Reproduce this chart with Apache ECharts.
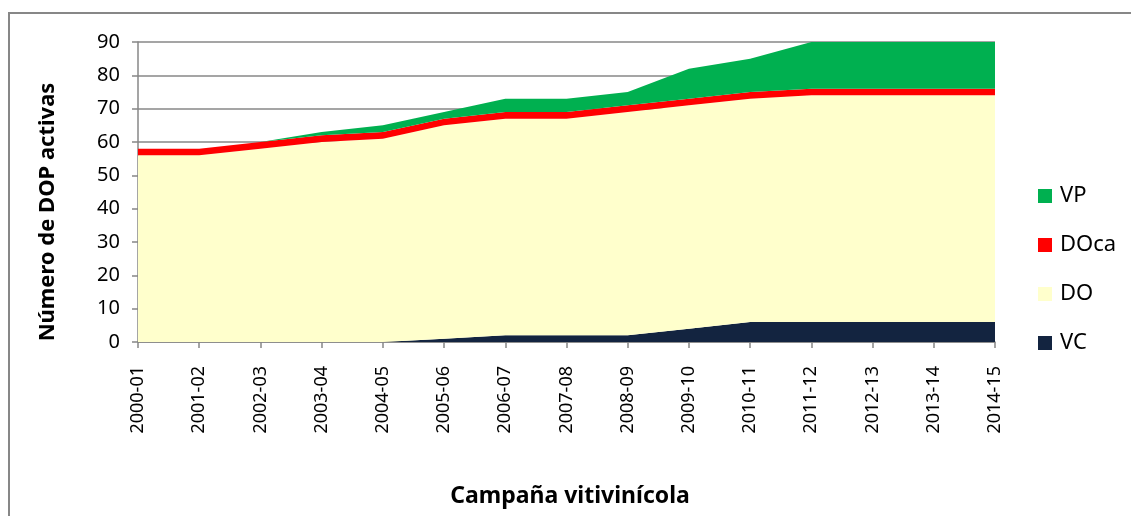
<!DOCTYPE html>
<html>
<head>
<meta charset="utf-8">
<script src="https://cdn.jsdelivr.net/npm/echarts@6/dist/echarts.min.js"></script>
<style>
  html, body { margin: 0; padding: 0; background: #fff; }
  #chart { width: 1131px; height: 516px; }
</style>
</head>
<body>
<div id="chart"></div>
<script>
var campanas = ['2000-01','2001-02','2002-03','2003-04','2004-05','2005-06','2006-07','2007-08',
                '2008-09','2009-10','2010-11','2011-12','2012-13','2013-14','2014-15'];
var vc   = [0, 0, 0, 0, 0, 1, 2, 2, 2, 4, 6, 6, 6, 6, 6];
var dO   = [56, 56, 58, 60, 61, 64, 65, 65, 67, 67, 67, 68, 68, 68, 68];
var doca = [2, 2, 2, 2, 2, 2, 2, 2, 2, 2, 2, 2, 2, 2, 2];
var vp   = [0, 0, 0, 1, 2, 2, 4, 4, 4, 9, 10, 14, 14, 14, 14];
var yTicks = [0, 10, 20, 30, 40, 50, 60, 70, 80, 90];

var font = 'Noto Sans';
var gris = '#878787';

var myChart = echarts.init(document.getElementById('chart'));

function area(name, data, color) {
  return {
    name: name,
    type: 'line',
    stack: 'total',
    data: data,
    symbol: 'none',
    lineStyle: { width: 0 },
    areaStyle: { color: color, opacity: 1 },
    itemStyle: { color: color },
    z: 2
  };
}

var option = {
  animation: false,
  backgroundColor: '#fff',
  graphic: [{
    type: 'rect',
    shape: { x: 9, y: 13, width: 1140, height: 520 },
    style: { fill: 'none', stroke: gris, lineWidth: 2 },
    silent: true
  }, {
    // titulo del eje Y
    type: 'text',
    x: 48, y: 212,
    rotation: Math.PI / 2,
    style: {
      text: 'Número de DOP activas',
      fontFamily: font, fontSize: 22, fontWeight: 'bold', fill: '#000',
      align: 'center', verticalAlign: 'middle'
    },
    silent: true
  }, {
    // titulo del eje X
    type: 'text',
    x: 570, y: 496,
    style: {
      text: 'Campaña vitivinícola',
      fontFamily: font, fontSize: 23, fontWeight: 'bold', fill: '#000',
      align: 'center', verticalAlign: 'middle'
    },
    silent: true
  }],
  grid: { left: 138, right: 136, top: 42, bottom: 174 },
  legend: {
    orient: 'vertical',
    left: 1038,
    top: 185,
    padding: 0,
    itemGap: 27,
    itemWidth: 14,
    itemHeight: 14,
    icon: 'rect',
    data: ['VP', 'DOca', 'DO', 'VC'],
    textStyle: { fontFamily: font, fontSize: 22, lineHeight: 21, color: '#000', padding: [0, 0, 0, 3] }
  },
  xAxis: {
    type: 'category',
    data: campanas,
    boundaryGap: false,
    axisLine: { lineStyle: { color: gris, width: 1.5 } },
    axisTick: { alignWithLabel: true, length: 6, lineStyle: { color: gris, width: 1.5 } },
    axisLabel: { rotate: 90, interval: 0, margin: 24, fontFamily: font, fontSize: 18, color: '#000' },
    splitLine: { show: false }
  },
  yAxis: {
    type: 'value',
    min: 0,
    max: 90,
    interval: 10,
    axisLine: { show: true, lineStyle: { color: gris, width: 1.5 } },
    axisTick: { show: true, length: 6, lineStyle: { color: gris, width: 1.5 } },
    axisLabel: {
      margin: 18, fontFamily: font, fontSize: 20, color: '#000',
      formatter: function (v) { return yTicks.indexOf(v) >= 0 ? String(v) : ''; }
    },
    splitLine: { show: true, lineStyle: { color: gris, width: 1.5 } }
  },
  series: [
    area('VC', vc, '#132440'),
    area('DO', dO, '#FFFFCC'),
    area('DOca', doca, '#FF0000'),
    area('VP', vp, '#00B050')
  ]
};

myChart.setOption(option);
</script>
</body>
</html>
